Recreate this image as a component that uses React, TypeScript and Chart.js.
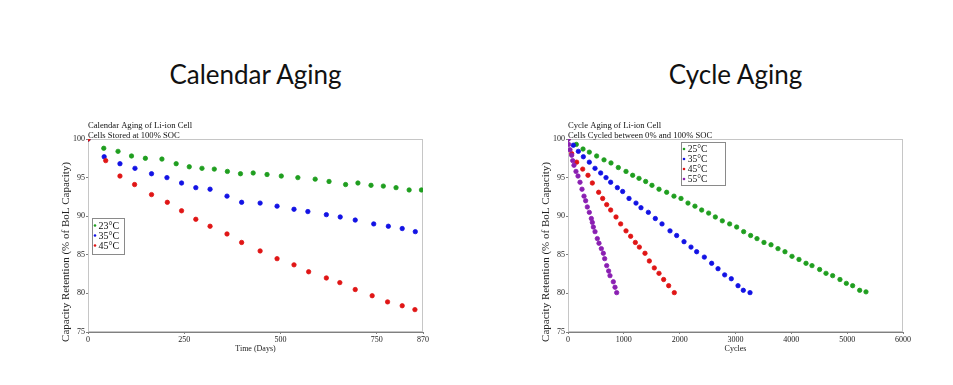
import React, { useEffect, useRef } from 'react';
import { Chart, registerables } from 'chart.js';
Chart.register(...registerables);

// ---------- Calendar aging (days vs capacity retention %) ----------
const calDays23 = [0, 41, 78, 113, 149, 192, 229, 263, 296, 328, 362, 396, 429, 465, 502, 545, 590, 626, 669, 701, 735, 767, 800, 834, 866];
const calRet23 = [100, 98.8, 98.4, 97.8, 97.5, 97.4, 96.8, 96.4, 96.2, 96.1, 95.8, 95.5, 95.6, 95.4, 95.2, 95.0, 94.8, 94.5, 94.1, 94.3, 94.0, 93.9, 93.7, 93.4, 93.4];
const calDays35 = [0, 42, 83, 122, 165, 205, 243, 280, 317, 361, 399, 447, 491, 535, 571, 619, 655, 694, 742, 780, 816, 850];
const calRet35 = [100, 97.7, 96.8, 96.2, 95.5, 95.0, 94.3, 93.7, 93.5, 92.6, 91.8, 91.7, 91.3, 90.9, 90.6, 90.2, 89.9, 89.5, 89.0, 88.7, 88.4, 88.0];
const calDays45 = [0, 46, 83, 121, 165, 206, 243, 280, 317, 361, 399, 447, 491, 535, 573, 619, 654, 694, 738, 778, 816, 849];
const calRet45 = [100, 97.2, 95.2, 94.1, 92.8, 91.8, 90.7, 89.6, 88.7, 87.7, 86.6, 85.5, 84.5, 83.7, 82.8, 82.0, 81.4, 80.5, 79.7, 78.9, 78.4, 77.9];
const calXTicks = [0, 250, 500, 750, 870];

// ---------- Cycle aging (cycles vs capacity retention %) ----------
const cyc25 = [0, 149, 269, 382, 513, 645, 770, 901, 1039, 1158, 1272, 1391, 1504, 1630, 1767, 1898, 2024, 2149, 2274, 2394, 2519, 2639, 2764, 2895, 3021, 3146, 3271, 3385, 3510, 3636, 3761, 3886, 4012, 4137, 4263, 4370, 4507, 4621, 4740, 4871, 4985, 5098, 5224, 5337];
const cycRet25 = [100, 99.3, 98.7, 98.3, 97.8, 97.3, 96.9, 96.3, 95.8, 95.3, 94.9, 94.5, 94.0, 93.5, 93.1, 92.6, 92.3, 91.7, 91.3, 90.8, 90.4, 89.9, 89.4, 89.0, 88.6, 88.0, 87.5, 87.1, 86.6, 86.3, 85.8, 85.4, 84.8, 84.4, 83.9, 83.6, 83.1, 82.6, 82.3, 81.8, 81.3, 81.0, 80.4, 80.2];
const cyc35 = [0, 96, 185, 275, 382, 484, 585, 681, 764, 884, 979, 1093, 1218, 1307, 1439, 1564, 1684, 1827, 1946, 2078, 2203, 2304, 2442, 2573, 2687, 2806, 2925, 3045, 3140, 3260];
const cycRet35 = [100, 99.2, 98.4, 97.7, 97.0, 96.2, 95.6, 95.0, 94.4, 93.7, 93.2, 92.3, 91.7, 91.1, 90.5, 89.7, 89.0, 88.1, 87.5, 86.7, 86.0, 85.4, 84.7, 83.9, 83.2, 82.4, 81.9, 81.0, 80.4, 80.1];
const cyc45 = [0, 66, 155, 263, 358, 436, 549, 621, 693, 764, 860, 943, 1039, 1122, 1206, 1278, 1379, 1457, 1546, 1630, 1713, 1803, 1904];
const cycRet45 = [100, 98.1, 97.0, 96.1, 95.3, 94.3, 93.1, 92.3, 91.5, 90.8, 89.9, 89.0, 88.1, 87.4, 86.6, 86.0, 85.2, 84.2, 83.3, 82.6, 81.8, 81.0, 80.1];
const cyc55 = [0, 12, 36, 66, 84, 107, 143, 179, 215, 251, 287, 316, 346, 382, 418, 436, 454, 484, 525, 555, 597, 633, 657, 693, 728, 752, 812, 842, 872];
const cycRet55 = [100, 99.3, 98.6, 97.9, 97.2, 96.6, 95.8, 95.2, 94.4, 93.5, 92.6, 92.0, 91.2, 90.5, 89.7, 89.2, 88.6, 88.0, 87.1, 86.5, 85.8, 85.2, 84.5, 83.6, 82.9, 82.3, 81.5, 80.8, 80.1];
const cycXTicks = [0, 1000, 2000, 3000, 4000, 5000, 6000];

const yTicks = [75, 80, 85, 90, 95, 100];
const yTitle = 'Capacity Retention (% of BoL Capacity)';

const GREEN = '#1f9e1f';
const BLUE = '#1212e4';
const RED = '#e01515';
const PURPLE = '#8a1fb2';
const SERIF = '"Liberation Serif", "Times New Roman", serif';

type Series = { label: string; color: string; xs: number[]; ys: number[] };
type Spec = {
  lines: string[];
  xTitle: string;
  xMax: number;
  xTicks: number[];
  series: Series[];
  legend: { x: number; y: number; w: number; h: number; first: number; step: number; dotX: number; textX: number; font: number };
};

const calendarSpec: Spec = {
  lines: ['Calendar Aging of Li-ion Cell', 'Cells Stored at 100% SOC'],
  xTitle: 'Time (Days)',
  xMax: 870,
  xTicks: calXTicks,
  series: [
    { label: '23°C', color: GREEN, xs: calDays23, ys: calRet23 },
    { label: '35°C', color: BLUE, xs: calDays35, ys: calRet35 },
    { label: '45°C', color: RED, xs: calDays45, ys: calRet45 },
  ],
  legend: { x: 4, y: 79, w: 32, h: 36, first: 7.5, step: 10, dotX: 3, textX: 6.5, font: 10 },
};

const cycleSpec: Spec = {
  lines: ['Cycle Aging of Li-ion Cell', 'Cells Cycled between 0% and 100% SOC'],
  xTitle: 'Cycles',
  xMax: 6000,
  xTicks: cycXTicks,
  series: [
    { label: '25°C', color: GREEN, xs: cyc25, ys: cycRet25 },
    { label: '35°C', color: BLUE, xs: cyc35, ys: cycRet35 },
    { label: '45°C', color: RED, xs: cyc45, ys: cycRet45 },
    { label: '55°C', color: PURPLE, xs: cyc55, ys: cycRet55 },
  ],
  legend: { x: 112.7, y: 3.3, w: 43.7, h: 43.3, first: 6.7, step: 10, dotX: 3.3, textX: 7, font: 9.5 },
};

function makeDecor(spec: Spec) {
  return {
    id: 'decor',
    beforeDatasetsDraw(chart: any) {
      const { ctx, chartArea: a } = chart;
      ctx.save();
      ctx.strokeStyle = '#c6c6c6';
      ctx.lineWidth = 1;
      ctx.strokeRect(a.left + 0.5, a.top + 0.5, a.right - a.left - 1, a.bottom - a.top - 1);
      ctx.restore();
    },
    afterDraw(chart: any) {
      const { ctx, chartArea: a } = chart;
      ctx.save();
      // title lines
      ctx.fillStyle = '#111';
      ctx.font = `8.6px ${SERIF}`;
      ctx.textAlign = 'left';
      ctx.textBaseline = 'alphabetic';
      spec.lines.forEach((t, i) => ctx.fillText(t, a.left, a.top - 10.7 + i * 10));
      // y-axis title
      ctx.save();
      ctx.translate(16, 137);
      ctx.rotate(-Math.PI / 2);
      ctx.font = `11px ${SERIF}`;
      ctx.textAlign = 'center';
      ctx.textBaseline = 'middle';
      ctx.fillStyle = '#222';
      ctx.fillText(yTitle, 0, 0);
      ctx.restore();
      // legend
      const L = spec.legend;
      const x0 = a.left + L.x;
      const y0 = a.top + L.y;
      ctx.fillStyle = '#fff';
      ctx.fillRect(x0, y0, L.w, L.h);
      ctx.strokeStyle = '#8a8a8a';
      ctx.lineWidth = 1;
      ctx.strokeRect(Math.round(x0) + 0.5, Math.round(y0) + 0.5, Math.round(L.w), Math.round(L.h));
      ctx.font = `${L.font}px ${SERIF}`;
      ctx.textBaseline = 'middle';
      ctx.textAlign = 'left';
      chart.data.datasets.forEach((ds: any, i: number) => {
        const cy = y0 + L.first + i * L.step;
        ctx.fillStyle = ds.backgroundColor;
        ctx.beginPath();
        ctx.arc(x0 + L.dotX, cy, 1.3, 0, Math.PI * 2);
        ctx.fill();
        ctx.fillStyle = '#111';
        ctx.fillText(ds.label, x0 + L.textX, cy + 0.5);
      });
      ctx.restore();
    },
  };
}

function AgingChart({ spec, left }: { spec: Spec; left: number }) {
  const ref = useRef<HTMLCanvasElement | null>(null);
  useEffect(() => {
    if (!ref.current) return;
    const n = spec.series.length;
    const chart = new Chart(ref.current, {
      type: 'scatter',
      data: {
        datasets: spec.series.map((s, i) => ({
          label: s.label,
          data: s.xs.map((x, j) => ({ x, y: s.ys[j] })),
          backgroundColor: s.color,
          borderColor: s.color,
          pointRadius: 2.2,
          pointBorderWidth: 0.8,
          pointHoverRadius: 2.2,
          order: n - i,
        })),
      },
      options: {
        responsive: false,
        animation: false,
        events: [],
        layout: { padding: { left: 0, top: 24, right: 17, bottom: 0 } },
        plugins: { legend: { display: false }, tooltip: { enabled: false }, title: { display: false } },
        scales: {
          x: {
            type: 'linear',
            min: 0,
            max: spec.xMax,
            afterBuildTicks: (s: any) => {
              s.ticks = spec.xTicks.map((v) => ({ value: v }));
            },
            afterFit: (s: any) => {
              s.height = 33;
            },
            border: { color: '#808080', width: 1 },
            grid: { drawOnChartArea: false, drawTicks: true, tickLength: 2, color: '#808080' },
            ticks: {
              font: { family: SERIF, size: 8 },
              color: '#222',
              padding: 1,
              maxRotation: 0,
              autoSkip: false,
              callback: (v: any) => String(v),
            },
            title: { display: true, text: spec.xTitle, font: { family: SERIF, size: 8 }, color: '#222', padding: { top: 0, bottom: 11 } },
          },
          y: {
            type: 'linear',
            min: 75,
            max: 100,
            afterBuildTicks: (s: any) => {
              s.ticks = yTicks.map((v) => ({ value: v }));
            },
            afterFit: (s: any) => {
              s.width = 38;
            },
            border: { color: '#808080', width: 1 },
            grid: { drawOnChartArea: false, drawTicks: true, tickLength: 2, color: '#808080' },
            ticks: { font: { family: SERIF, size: 8 }, color: '#222', padding: 1, autoSkip: false, callback: (v: any) => String(v) },
            title: { display: false },
          },
        },
      },
      plugins: [makeDecor(spec)],
    } as any);
    return () => chart.destroy();
  }, [spec]);
  return (
    <canvas
      ref={ref}
      width={390}
      height={250}
      style={{ position: 'absolute', left, top: 115, width: 390, height: 250 }}
    />
  );
}

const bigTitle: React.CSSProperties = {
  position: 'absolute',
  top: 61,
  width: 335,
  textAlign: 'center',
  fontFamily: 'Lato, "Open Sans", sans-serif',
  fontSize: 26,
  lineHeight: '26px',
  color: '#111',
  whiteSpace: 'nowrap',
};

export default function App() {
  return (
    <div style={{ position: 'fixed', left: 0, top: 0, width: 953, height: 385, background: '#fff', overflow: 'hidden' }}>
      <div style={{ ...bigTitle, left: 88 }}>Calendar Aging</div>
      <div style={{ ...bigTitle, left: 568 }}>Cycle Aging</div>
      <AgingChart spec={calendarSpec} left={50} />
      <AgingChart spec={cycleSpec} left={530} />
    </div>
  );
}
